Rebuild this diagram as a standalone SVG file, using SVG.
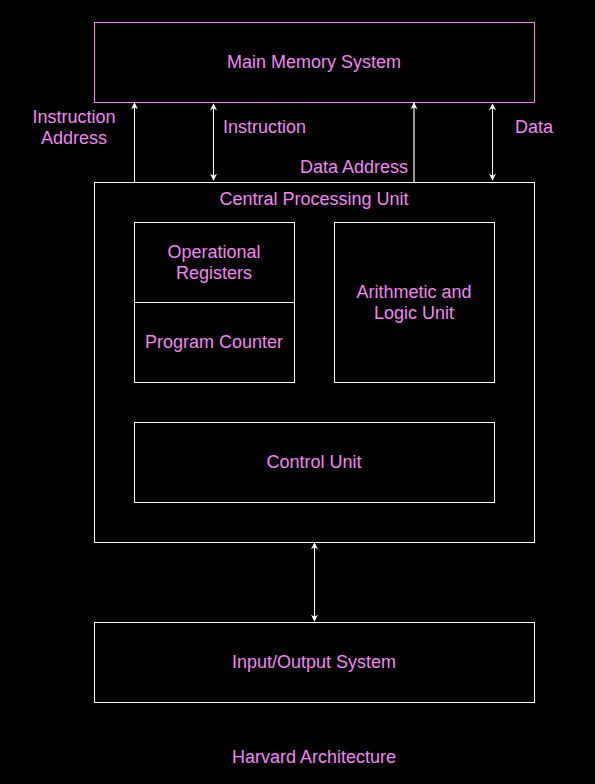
<svg xmlns="http://www.w3.org/2000/svg" width="595" height="784" viewBox="0 0 595 784">
<style>
text{font-family:"Liberation Sans",Arial,sans-serif;font-size:18px;fill:#ee88ee;text-anchor:middle}
.box{fill:#000;stroke:#fff;stroke-width:1}
.wire{stroke:#fff;stroke-width:1;fill:none}
</style>
<defs>
<marker id="ah" viewBox="0 0 10 10" refX="9" refY="5" markerWidth="7" markerHeight="7" markerUnits="userSpaceOnUse" orient="auto-start-reverse">
<path d="M0,0 L10,5 L0,10 L3,5 Z" fill="#fff"/>
</marker>
</defs>
<rect width="595" height="784" fill="#000"/>
<g id="memory">
<rect x="94.5" y="22.5" width="440" height="80" fill="#000" stroke="#ee88ee"/>
<text x="314" y="67.5">Main Memory System</text>
</g>
<g id="cpu">
<rect class="box" x="94.5" y="182.5" width="440" height="360"/>
<text x="314" y="204.5">Central Processing Unit</text>
</g>
<g id="registers">
<rect class="box" x="134.5" y="222.5" width="160" height="80"/>
<text x="214" y="257.5">Operational</text>
<text x="214" y="278.5">Registers</text>
</g>
<g id="pc">
<rect class="box" x="134.5" y="302.5" width="160" height="80"/>
<text x="214" y="347.5">Program Counter</text>
</g>
<g id="alu">
<rect class="box" x="334.5" y="222.5" width="160" height="160"/>
<text x="414" y="297.5">Arithmetic and</text>
<text x="414" y="318.5">Logic Unit</text>
</g>
<g id="control">
<rect class="box" x="134.5" y="422.5" width="360" height="80"/>
<text x="314" y="467.5">Control Unit</text>
</g>
<g id="io">
<rect class="box" x="94.5" y="622.5" width="440" height="80"/>
<text x="314" y="667.5">Input/Output System</text>
</g>
<g id="connectors">
<line class="wire" x1="134.5" y1="182" x2="134.5" y2="103" marker-end="url(#ah)"/>
<line class="wire" x1="213.5" y1="104" x2="213.5" y2="180" marker-start="url(#ah)" marker-end="url(#ah)"/>
<line x1="414" y1="182" x2="414" y2="103" stroke="#999" stroke-width="2" marker-end="url(#ah)"/>
<line class="wire" x1="492.5" y1="104" x2="492.5" y2="180" marker-start="url(#ah)" marker-end="url(#ah)"/>
<line class="wire" x1="314.5" y1="543" x2="314.5" y2="621" marker-start="url(#ah)" marker-end="url(#ah)"/>
</g>
<g id="labels">
<text x="74" y="122.5">Instruction</text>
<text x="74" y="143.5">Address</text>
<text x="223" y="132.5" style="text-anchor:start">Instruction</text>
<text x="408" y="172.5" style="text-anchor:end">Data Address</text>
<text x="534" y="132.5">Data</text>
<text x="314" y="762.5">Harvard Architecture</text>
</g>
</svg>
